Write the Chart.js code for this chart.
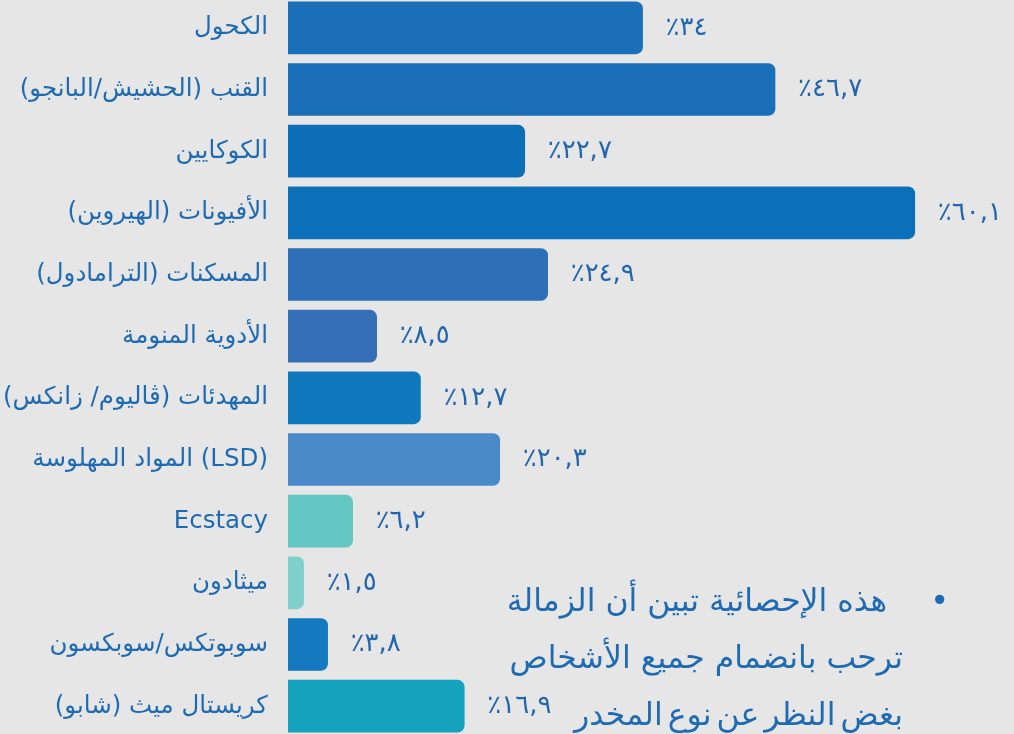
<!DOCTYPE html>
<html lang="ar">
<head>
<meta charset="utf-8">
<script src="https://cdn.jsdelivr.net/npm/chart.js@4.4.1/dist/chart.umd.min.js"></script>
<style>
    html, body {
        margin: 0;
        padding: 0;
        background: #e6e6e6;
        overflow: hidden;
        width: 1014px;
        height: 734px;
    }
    #wrap {
        position: absolute;
        left: 0;
        top: -3px;
        width: 1018px;
        height: 740px;
    }
    #note {
        position: absolute;
        left: 440px;
        top: 572px;
        width: 463px;
        direction: rtl;
        text-align: right;
        font-family: "DejaVu Sans", sans-serif;
        font-size: 31.5px;
        line-height: 57px;
        color: #1f6bb3;
    }
    #note .bullet {
        position: absolute;
        right: -46px;
        top: 0;
        font-size: 32px;
    }
</style>
</head>
<body>
<div id="wrap"><canvas id="drugChart" width="1018" height="740"></canvas></div>
<div id="note"><span class="bullet">•</span><span style="margin-right:16px">هذه الإحصائية تبين أن الزمالة</span><br>ترحب بانضمام جميع الأشخاص<br><span style="word-spacing:-5px">بغض النظر عن نوع المخدر</span></div>
<script>
const categories = [
    "الكحول",
    "القنب (الحشيش/البانجو)",
    "الكوكايين",
    "الأفيونات (الهيروين)",
    "المسكنات (الترامادول)",
    "الأدوية المنومة",
    "المهدئات (ڤاليوم/ زانكس)",
    "المواد المهلوسة (LSD)",
    "Ecstacy",
    "ميثادون",
    "سوبوتكس/سوبكسون",
    "كريستال ميث (شابو)"
];

const percentages = [34, 46.7, 22.7, 60.1, 24.9, 8.5, 12.7, 20.3, 6.2, 1.5, 3.8, 16.9];

const valueLabels = ["٪٣٤", "٪٤٦,٧", "٪٢٢,٧", "٪٦٠,١", "٪٢٤,٩", "٪٨,٥", "٪١٢,٧", "٪٢٠,٣", "٪٦,٢", "٪١,٥", "٪٣,٨", "٪١٦,٩"];

const barColors = [
    "#1b6fb8", "#1a6fb8", "#0d6eb8", "#0b70b9",
    "#2e70b8", "#356fb8", "#0f78bd", "#4a8ac8",
    "#64c6c2", "#7fd0cc", "#1479bf", "#14a2bd"
];

// value labels right of each bar
const valueLabelPlugin = {
    id: "valueLabels",
    afterDatasetsDraw(chart) {
        const ctx = chart.ctx;
        const meta = chart.getDatasetMeta(0);
        ctx.save();
        ctx.fillStyle = "#2266b0";
        ctx.font = "26px 'DejaVu Sans', sans-serif";
        ctx.letterSpacing = "2px";
        ctx.textAlign = "left";
        ctx.textBaseline = "middle";
        ctx.direction = "ltr";
        meta.data.forEach((bar, i) => {
            ctx.fillText(valueLabels[i], bar.x + 23, bar.y);
        });
        ctx.restore();
    }
};

const ctx = document.getElementById("drugChart").getContext("2d");

new Chart(ctx, {
    type: "bar",
    data: {
        labels: categories,
        datasets: [{
            data: percentages,
            backgroundColor: barColors,
            borderRadius: 7,
            borderSkipped: "start",
            barThickness: 52
        }]
    },
    options: {
        indexAxis: "y",
        responsive: false,
        animation: false,
        layout: { padding: 0 },
        plugins: {
            legend: { display: false },
            tooltip: { enabled: false }
        },
        scales: {
            x: {
                display: false,
                min: 0,
                max: 70
            },
            y: {
                grid: { display: false, drawTicks: false },
                border: { display: false },
                ticks: {
                    color: "#1f6bb3",
                    padding: 20,
                    font: { family: "'DejaVu Sans', sans-serif", size: 24.5 }
                },
                afterFit(scale) {
                    scale.width = 288;
                    scale.paddingTop = 0;
                    scale.paddingBottom = 0;
                }
            }
        }
    },
    plugins: [valueLabelPlugin]
});
</script>
</body>
</html>
